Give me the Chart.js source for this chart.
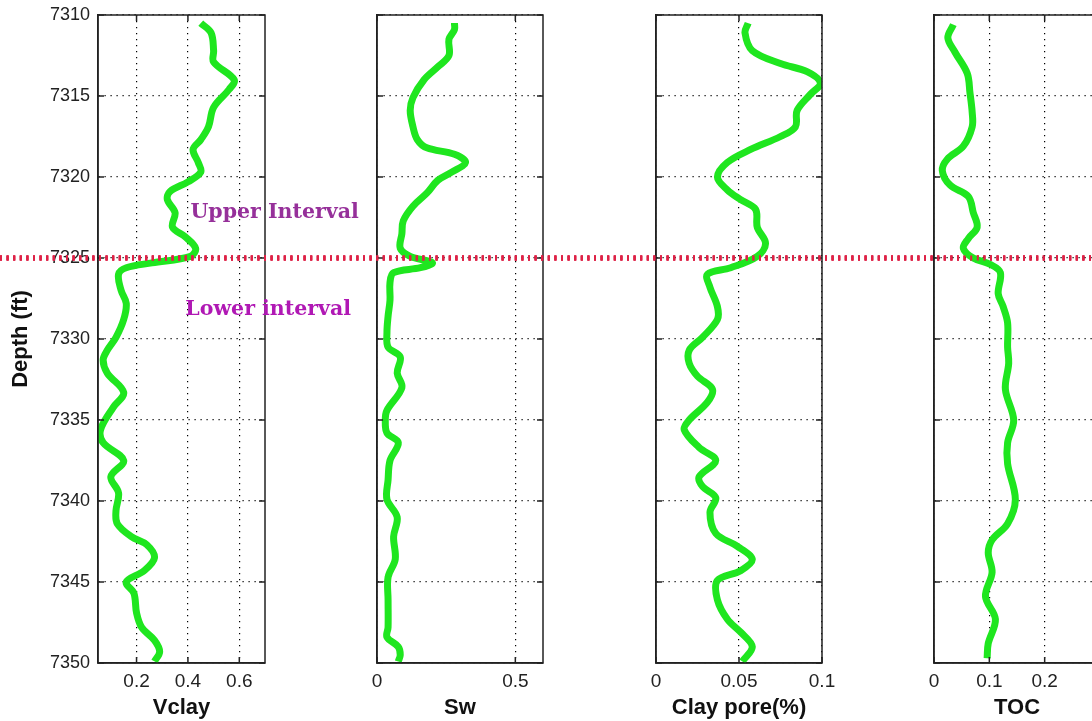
<!DOCTYPE html>
<html>
<head>
<meta charset="utf-8">
<script src="https://cdn.jsdelivr.net/npm/chart.js@4.4.1/dist/chart.umd.min.js"></script>
<style>
  html, body { margin: 0; padding: 0; background: #fff; overflow: hidden; }
  #wrap { position: relative; width: 1092px; height: 721px; overflow: hidden; }
  #wrap canvas { position: absolute; left: 0; top: 0; }
</style>
</head>
<body>
<div id="wrap">
  <canvas id="vclay" width="1110" height="721"></canvas>
  <canvas id="sw" width="1110" height="721"></canvas>
  <canvas id="claypore" width="1110" height="721"></canvas>
  <canvas id="toc" width="1110" height="721"></canvas>
</div>
<script>
// ---- data (depth in ft, value) ----
const depthTicks = [7310, 7315, 7320, 7325, 7330, 7335, 7340, 7345, 7350];
const boundaryDepth = 7325;

const vclayDepth = [7310.5, 7311.1, 7312.2, 7312.9, 7314.0, 7314.6, 7315.7, 7316.9, 7317.7, 7318.3,
  7319.1, 7319.7, 7320.3, 7320.9, 7321.4, 7322.2, 7323.1, 7323.7, 7324.4, 7324.9,
  7325.3, 7325.6, 7326.0, 7327.0, 7327.8, 7328.8, 7329.9, 7330.7, 7331.3, 7332.1,
  7333.3, 7334.2, 7335.6, 7336.4, 7337.5, 7338.5, 7339.5, 7340.6, 7341.4, 7342.2,
  7342.7, 7343.5, 7344.3, 7345.0, 7345.7, 7346.9, 7347.8, 7348.6, 7349.3, 7349.9];
const vclayValues = [0.45, 0.49, 0.50, 0.50, 0.58, 0.56, 0.50, 0.48, 0.45, 0.42,
  0.44, 0.45, 0.40, 0.33, 0.32, 0.35, 0.34, 0.39, 0.43, 0.41,
  0.26, 0.16, 0.13, 0.14, 0.16, 0.15, 0.12, 0.086, 0.07, 0.086,
  0.15, 0.11, 0.06, 0.07, 0.15, 0.10, 0.13, 0.12, 0.125, 0.18,
  0.24, 0.27, 0.23, 0.16, 0.19, 0.20, 0.22, 0.27, 0.29, 0.27];
const vclayTicks = [0.2, 0.4, 0.6];

const swDepth = [7310.5, 7310.9, 7311.5, 7312.5, 7313.2, 7314.0, 7315.1, 7315.9, 7316.9, 7317.7,
  7318.2, 7318.6, 7319.1, 7319.7, 7320.2, 7321.0, 7321.8, 7322.7, 7323.5, 7324.4,
  7324.9, 7325.3, 7325.6, 7325.9, 7326.5, 7327.6, 7328.6, 7329.6, 7330.5, 7331.1,
  7332.1, 7333.0, 7334.4, 7335.0, 7335.8, 7336.4, 7337.5, 7338.7, 7339.9, 7341.0,
  7342.2, 7343.6, 7344.7, 7346.1, 7347.8, 7348.4, 7349.0, 7349.5, 7349.9];
const swValues = [0.28, 0.28, 0.26, 0.26, 0.22, 0.17, 0.13, 0.12, 0.13, 0.146,
  0.18, 0.28, 0.32, 0.27, 0.22, 0.18, 0.13, 0.095, 0.09, 0.084,
  0.12, 0.20, 0.157, 0.06, 0.047, 0.047, 0.04, 0.036, 0.04, 0.084,
  0.073, 0.09, 0.036, 0.03, 0.036, 0.077, 0.047, 0.04, 0.036, 0.073,
  0.06, 0.066, 0.04, 0.04, 0.04, 0.036, 0.077, 0.084, 0.077];
const swTicks = [0, 0.5];

const clayPoreDepth = [7310.5, 7311.1, 7312.2, 7313.0, 7313.5, 7314.2, 7314.9, 7315.9, 7316.9, 7317.5,
  7318.3, 7319.1, 7320.0, 7320.8, 7321.4, 7322.0, 7323.1, 7324.1, 7324.9, 7325.6,
  7326.0, 7326.8, 7328.0, 7328.8, 7329.9, 7330.7, 7331.5, 7332.3, 7333.1, 7333.9,
  7335.0, 7335.6, 7336.7, 7337.5, 7338.5, 7339.1, 7339.8, 7340.7, 7342.0, 7342.8,
  7343.6, 7344.3, 7344.9, 7346.1, 7347.3, 7348.1, 7349.0, 7349.9];
const clayPoreValues = [0.0555, 0.0536, 0.058, 0.075, 0.091, 0.099, 0.093, 0.085, 0.084, 0.075,
  0.057, 0.043, 0.037, 0.043, 0.051, 0.06, 0.061, 0.066, 0.061, 0.045,
  0.031, 0.0325, 0.037, 0.037, 0.028, 0.020, 0.020, 0.025, 0.034, 0.031,
  0.020, 0.017, 0.026, 0.036, 0.026, 0.028, 0.036, 0.0325, 0.036, 0.049,
  0.058, 0.051, 0.037, 0.037, 0.043, 0.051, 0.058, 0.052];
const clayPoreTicks = [0, 0.05, 0.1];

const tocDepth = [7310.6, 7311.4, 7312.3, 7313.6, 7314.8, 7316.0, 7316.9, 7318.1, 7318.9, 7319.6,
  7320.5, 7321.2, 7322.2, 7323.1, 7323.8, 7324.4, 7325.0, 7325.4, 7325.9, 7327.2,
  7328.0, 7329.0, 7330.5, 7331.5, 7333.1, 7335.0, 7336.4, 7337.7, 7339.9, 7341.4,
  7342.4, 7343.2, 7344.4, 7345.9, 7347.3, 7348.8, 7349.7];
const tocValues = [0.035, 0.025, 0.038, 0.06, 0.065, 0.069, 0.069, 0.053, 0.024, 0.015,
  0.029, 0.062, 0.071, 0.078, 0.062, 0.053, 0.071, 0.102, 0.12, 0.116,
  0.125, 0.133, 0.133, 0.135, 0.129, 0.144, 0.133, 0.133, 0.147, 0.133,
  0.105, 0.098, 0.105, 0.093, 0.111, 0.098, 0.096];
const tocTicks = [0, 0.1, 0.2];

const intervalLabels = ['Upper Interval', 'Lower interval'];
const intervalColors = ['#96309a', '#b018b4'];
const intervalAnchorVclay = [0.41, 0.39];
const intervalAnchorDepth = [7322.5, 7328.5];

// ---- layout ----
const CANVAS_W = 1110;
const PLOT_TOP = 15;
const PLOT_BOTTOM = 663;
const GREEN = '#1fe61f';
const RED = 'rgb(222, 34, 70)';
const INK = '#222';

const trackFrame = {
  id: 'trackFrame',
  afterDraw(chart) {
    const { ctx, chartArea: a, scales } = chart;
    ctx.save();
    ctx.strokeStyle = INK;
    ctx.lineWidth = 1.5;
    ctx.beginPath();
    scales.y.ticks.forEach(t => {
      const y = scales.y.getPixelForValue(t.value);
      ctx.moveTo(a.left, y); ctx.lineTo(a.left + 6, y);
      ctx.moveTo(a.right, y); ctx.lineTo(a.right - 6, y);
    });
    scales.x.ticks.forEach(t => {
      const x = scales.x.getPixelForValue(t.value);
      ctx.moveTo(x, a.bottom); ctx.lineTo(x, a.bottom - 6);
      ctx.moveTo(x, a.top); ctx.lineTo(x, a.top + 6);
    });
    ctx.stroke();
    ctx.strokeRect(a.left, a.top, a.width, a.height);

    // interval boundary, dotted red across the whole figure
    const yb = scales.y.getPixelForValue(boundaryDepth);
    ctx.strokeStyle = RED;
    ctx.lineWidth = 5;
    ctx.setLineDash([2, 4.6]);
    ctx.beginPath();
    ctx.moveTo(0, yb);
    ctx.lineTo(chart.width, yb);
    ctx.stroke();
    ctx.restore();
  }
};

const intervalText = {
  id: 'intervalText',
  afterDraw(chart) {
    const { ctx, scales: { x, y } } = chart;
    ctx.save();
    ctx.font = 'bold 20.5px "DejaVu Serif"';
    ctx.textBaseline = 'alphabetic';
    intervalLabels.forEach((txt, i) => {
      ctx.fillStyle = intervalColors[i];
      ctx.fillText(txt, x.getPixelForValue(intervalAnchorVclay[i]), y.getPixelForValue(intervalAnchorDepth[i]));
    });
    ctx.restore();
  }
};

function makeTrack(id, depths, values, opts) {
  const points = depths.map((d, i) => ({ x: values[i], y: d }));
  new Chart(document.getElementById(id), {
    type: 'line',
    data: {
      datasets: [{
        data: points,
        borderColor: GREEN,
        borderWidth: 7,
        pointRadius: 0,
        tension: 0.35,
        fill: false
      }]
    },
    options: {
      responsive: false,
      animation: false,
      devicePixelRatio: 1,
      layout: { padding: { top: PLOT_TOP, bottom: 0, left: 0, right: CANVAS_W - opts.right } },
      plugins: { legend: { display: false }, tooltip: { enabled: false } },
      scales: {
        x: {
          type: 'linear',
          position: 'bottom',
          min: opts.min,
          max: opts.max,
          afterBuildTicks: s => { s.ticks = opts.ticks.map(v => ({ value: v })); },
          afterFit: s => { s.height = 721 - PLOT_BOTTOM; s.paddingLeft = 0; s.paddingRight = 0; },
          grid: { color: '#000', lineWidth: 1.2, drawTicks: false },
          border: { display: true, color: INK, width: 1.5, dash: [1.2, 4.8] },
          ticks: {
            autoSkip: false,
            maxRotation: 0,
            padding: 7,
            color: INK,
            font: { family: 'Liberation Sans', size: 19 },
            callback: v => String(v)
          },
          title: {
            display: true,
            text: opts.title,
            color: '#111',
            padding: { top: 0, bottom: 0 },
            font: { family: 'Liberation Sans', size: 22, weight: 'bold' }
          }
        },
        y: {
          type: 'linear',
          position: 'left',
          reverse: true,
          min: depthTicks[0],
          max: depthTicks[depthTicks.length - 1],
          afterBuildTicks: s => { s.ticks = depthTicks.map(v => ({ value: v })); },
          afterFit: s => { s.width = opts.left; s.paddingTop = 0; s.paddingBottom = 0; },
          grid: { color: '#000', lineWidth: 1.2, drawTicks: false },
          border: { display: true, color: INK, width: 1.5, dash: [1.2, 4.8] },
          ticks: {
            display: opts.showDepth,
            padding: 8,
            color: INK,
            font: { family: 'Liberation Sans', size: 18 },
            callback: v => String(v)
          },
          title: {
            display: opts.showDepth,
            text: 'Depth (ft)',
            color: '#111',
            padding: { top: 8, bottom: 0 },
            font: { family: 'Liberation Sans', size: 22, weight: 'bold' }
          }
        }
      }
    },
    plugins: opts.showDepth ? [trackFrame, intervalText] : [trackFrame]
  });
}

makeTrack('vclay', vclayDepth, vclayValues,
  { title: 'Vclay', min: 0.05, max: 0.7, ticks: vclayTicks, left: 98, right: 265, showDepth: true });
makeTrack('sw', swDepth, swValues,
  { title: 'Sw', min: 0, max: 0.6, ticks: swTicks, left: 377, right: 543, showDepth: false });
makeTrack('claypore', clayPoreDepth, clayPoreValues,
  { title: 'Clay pore(%)', min: 0, max: 0.1, ticks: clayPoreTicks, left: 656, right: 822, showDepth: false });
makeTrack('toc', tocDepth, tocValues,
  { title: 'TOC', min: 0, max: 0.3, ticks: tocTicks, left: 934, right: 1100, showDepth: false });
</script>
</body>
</html>
